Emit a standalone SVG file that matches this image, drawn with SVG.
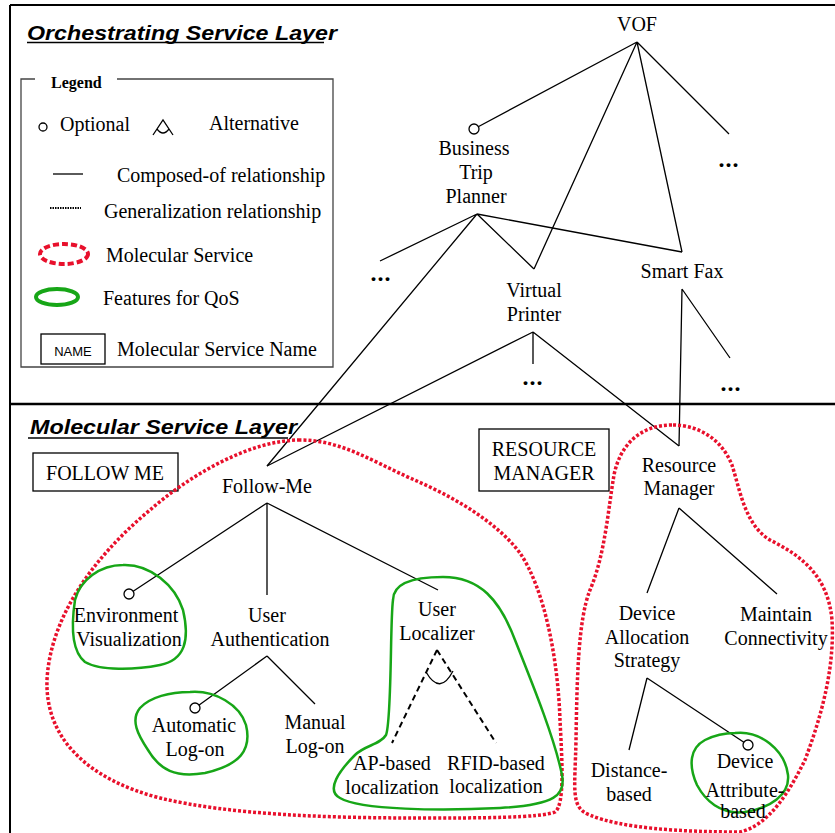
<svg xmlns="http://www.w3.org/2000/svg" width="835" height="833" viewBox="0 0 835 833">
<style>
text{font-family:"Liberation Serif","Times New Roman",serif;font-size:20px;fill:#000}
.c{text-anchor:middle}
.ttl{font-family:"Liberation Sans",Arial,sans-serif;font-weight:bold;font-style:italic;font-size:21px}
.dots{font-weight:bold;font-size:24px;text-anchor:middle;letter-spacing:1px}
.ln{stroke:#000;stroke-width:1.3;fill:none}
.alt{stroke:#000;stroke-width:2;stroke-dasharray:6 4;fill:none}
.ms{stroke:#e8102c;stroke-width:3.5;stroke-dasharray:3 2;fill:none}
.qos{stroke:#17a617;stroke-width:2.5;fill:none}
.opt{stroke:#000;stroke-width:1.3;fill:#fff}
.box{stroke:#000;stroke-width:1.3;fill:#fff}
</style>
<rect width="835" height="833" fill="#fff"/>
<g id="frame">
<line x1="10" y1="5" x2="835" y2="5" stroke="#000" stroke-width="2"/>
<line x1="10" y1="5" x2="10" y2="833" stroke="#000" stroke-width="2"/>
<line x1="10" y1="404" x2="835" y2="404" stroke="#000" stroke-width="2.5"/>
<text class="ttl" x="27" y="40" textLength="310" lengthAdjust="spacingAndGlyphs">Orchestrating Service Layer</text>
<line x1="27" y1="42.5" x2="324" y2="42.5" stroke="#000" stroke-width="1.5"/>
<text class="ttl" x="30" y="434" textLength="267" lengthAdjust="spacingAndGlyphs">Molecular Service Layer</text>
<line x1="28" y1="438" x2="288" y2="438" stroke="#000" stroke-width="1.5"/>
</g>
<g id="legend">
<path d="M35,79 H21 V367 H333 V79 H117" fill="none" stroke="#444" stroke-width="1.3"/>
<text x="51" y="88" style="font-weight:bold;font-size:16px">Legend</text>
<circle class="opt" cx="43" cy="127" r="4"/>
<text x="60" y="131">Optional</text>
<path class="ln" d="M153,135 L163,120 L173,135 M157,129 Q163,137 169,129"/>
<text x="209" y="130">Alternative</text>
<line class="ln" x1="53" y1="174" x2="83" y2="174"/>
<text x="117" y="182">Composed-of relationship</text>
<line x1="50" y1="208" x2="81" y2="208" stroke="#000" stroke-width="2" stroke-dasharray="1.5 1"/>
<text x="104" y="218">Generalization relationship</text>
<ellipse cx="64" cy="254" rx="24" ry="10" fill="none" stroke="#e8102c" stroke-width="4" stroke-dasharray="6 3"/>
<text x="106" y="262">Molecular Service</text>
<ellipse cx="57" cy="297" rx="21" ry="8" fill="none" stroke="#17a617" stroke-width="4"/>
<text x="103" y="305">Features for QoS</text>
<rect class="box" x="41" y="334" width="64" height="30"/>
<text x="73" y="356" class="c" style="font-family:'Liberation Sans',Arial,sans-serif;font-size:13px">NAME</text>
<text x="117" y="356">Molecular Service Name</text>
</g>
<g id="connectors">
<path class="ln" d="M637,42 L474,129 M637,42 L534,269 M637,42 L682,252 M637,42 L729,134"/>
<path class="ln" d="M477,214 L380,261 M477,214 L267,466 M477,214 L534,269 M477,214 L682,252"/>
<path class="ln" d="M533,332 L533,364 M533,332 L267,466 M533,332 L679,446"/>
<path class="ln" d="M682,289 L730,358 M682,289 L679,446"/>
<path class="ln" d="M267,503 L129,594 M267,503 L267,595 M267,503 L438,590"/>
<path class="ln" d="M267,656 L195,708 M267,656 L315,704"/>
<path class="alt" d="M437,650 L392,743 M437,650 L496,743"/>
<path class="ln" d="M426,672 Q440,696 453,671"/>
<path class="ln" d="M679,508 L647,593 M679,508 L777,594"/>
<path class="ln" d="M647,678 L629,750 M647,678 L748,745"/>
</g>
<g id="boxes">
<g id="box-followme"><rect class="box" x="33" y="453" width="145" height="38"/><text class="c" x="105" y="480">FOLLOW ME</text></g>
<g id="box-resmgr"><rect class="box" x="479" y="429" width="130" height="62"/><text class="c" x="544" y="456">RESOURCE</text><text class="c" x="544" y="480">MANAGER</text></g>
</g>
<g id="molecular-services">
<path id="ms-followme" class="ms" d="M300,440 C250,440 190,475 150,510 C90,560 50,620 47,680 C45,740 90,780 160,798 C230,815 330,818 420,818 C480,818 540,818 555,812 C565,805 562,760 560,720 C558,660 545,590 520,553 C495,520 450,495 410,478 C370,460 340,440 300,440 Z"/>
<path id="ms-resmgr" class="ms" d="M672,425 C640,425 620,445 614,475 C608,510 605,555 590,590 C578,620 577,680 576,740 C575,790 570,808 590,815 C620,828 680,832 740,832 C770,825 790,790 805,760 C820,720 835,670 832,620 C828,575 800,555 770,540 C745,525 740,490 732,465 C722,440 700,425 672,425 Z"/>
</g>
<g id="qos-features">
<path class="qos" d="M123,565 C150,564 175,585 183,610 C190,640 185,660 160,665 C135,670 100,671 85,662 C70,650 72,620 75,600 C80,580 100,565 123,565 Z"/>
<path class="qos" d="M190,692 C215,690 240,705 246,725 C252,750 240,765 205,773 C175,778 160,770 148,750 C138,735 130,720 140,708 C150,697 170,692 190,692 Z"/>
<path class="qos" d="M393,600 C393,585 410,577 443,577 C480,577 500,600 515,640 C535,690 555,740 562,775 C566,795 555,805 500,808 C440,811 360,810 340,798 C325,790 340,770 355,755 C365,745 380,745 386,735 C392,720 390,620 393,600 Z"/>
<path class="qos" d="M735,733 C760,730 785,750 788,775 C790,795 770,808 745,812 C720,815 705,800 697,785 C688,765 690,748 705,740 C715,735 725,733 735,733 Z"/>
</g>
<g id="n-vof"><text class="c" x="637" y="31">VOF</text></g>
<g id="n-vof-more"><text class="dots" x="729" y="167">...</text></g>
<g id="n-btp"><circle class="opt" cx="474" cy="129" r="5"/><text class="c" x="474" y="155">Business</text><text class="c" x="476" y="179">Trip</text><text class="c" x="476" y="203">Planner</text></g>
<g id="n-btp-more"><text class="dots" x="381" y="281">...</text></g>
<g id="n-vp"><text class="c" x="534" y="297">Virtual</text><text class="c" x="534" y="321">Printer</text></g>
<g id="n-vp-more"><text class="dots" x="533" y="385">...</text></g>
<g id="n-sf"><text class="c" x="682" y="278">Smart Fax</text></g>
<g id="n-sf-more"><text class="dots" x="731" y="391">...</text></g>
<g id="n-followme"><text class="c" x="267" y="493">Follow-Me</text></g>
<g id="n-env"><circle class="opt" cx="129" cy="594" r="5"/><text class="c" x="126" y="622">Environment</text><text class="c" x="129" y="646">Visualization</text></g>
<g id="n-auth"><text class="c" x="267" y="622">User</text><text class="c" x="270" y="646">Authentication</text></g>
<g id="n-autolog"><circle class="opt" cx="195" cy="708" r="5"/><text class="c" x="194" y="732">Automatic</text><text class="c" x="195" y="756">Log-on</text></g>
<g id="n-manlog"><text class="c" x="315" y="729">Manual</text><text class="c" x="315" y="753">Log-on</text></g>
<g id="n-ul"><text class="c" x="437" y="616">User</text><text class="c" x="437" y="640">Localizer</text></g>
<g id="n-ap"><text class="c" x="392" y="770">AP-based</text><text class="c" x="392" y="794">localization</text></g>
<g id="n-rfid"><text class="c" x="496" y="770">RFID-based</text><text class="c" x="496" y="793">localization</text></g>
<g id="n-rm"><text class="c" x="679" y="472">Resource</text><text class="c" x="679" y="495">Manager</text></g>
<g id="n-das"><text class="c" x="647" y="620">Device</text><text class="c" x="647" y="644">Allocation</text><text class="c" x="647" y="667">Strategy</text></g>
<g id="n-mc"><text class="c" x="776" y="621">Maintain</text><text class="c" x="776" y="645">Connectivity</text></g>
<g id="n-dist"><text class="c" x="629" y="777">Distance-</text><text class="c" x="629" y="801">based</text></g>
<g id="n-dab"><circle class="opt" cx="748" cy="745" r="5"/><text class="c" x="745" y="768">Device</text><text class="c" x="745" y="797">Attribute-</text><text class="c" x="743" y="818">based</text></g>
</svg>
